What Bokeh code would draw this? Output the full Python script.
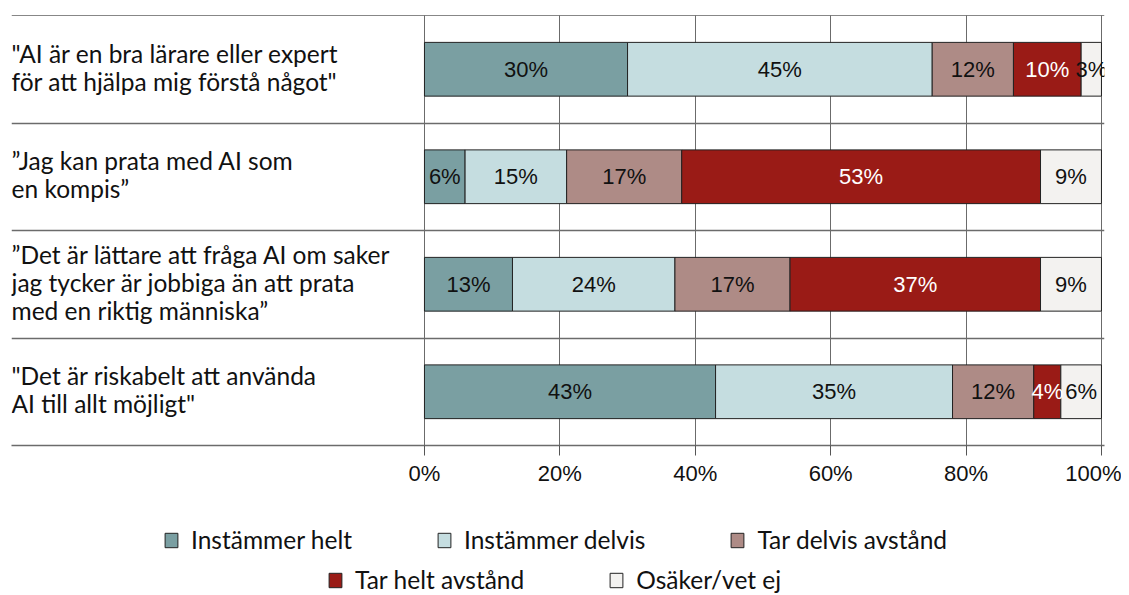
from bokeh.plotting import figure
from bokeh.layouts import column
from bokeh.models import (ColumnDataSource, Range1d, FixedTicker, Legend, LegendItem,
                          Span, PrintfTickFormatter)
from bokeh.core.properties import value
from bokeh.embed import file_html
from bokeh.resources import INLINE

# ---------------- data ----------------
categories = [
    '"AI är en bra lärare eller expert\nför att hjälpa mig förstå något"',
    '”Jag kan prata med AI som\nen kompis”',
    '”Det är lättare att fråga AI om saker\njag tycker är jobbiga än att prata\nmed en riktig människa”',
    '"Det är riskabelt att använda\nAI till allt möjligt"',
]
series_names = ["Instämmer helt", "Instämmer delvis", "Tar delvis avstånd",
                "Tar helt avstånd", "Osäker/vet ej"]
instammer_helt = [30, 6, 13, 43]
instammer_delvis = [45, 15, 24, 35]
tar_delvis_avstand = [12, 17, 17, 12]
tar_helt_avstand = [10, 53, 37, 4]
osaker = [3, 9, 9, 6]
tick_values = [0, 20, 40, 60, 80, 100]

series_values = [instammer_helt, instammer_delvis, tar_delvis_avstand,
                 tar_helt_avstand, osaker]
colors = ["#7a9fa2", "#c5dde0", "#ae8b86", "#9a1b16", "#f3f2f0"]
label_colors = ["#111111", "#111111", "#111111", "#ffffff", "#111111"]

CAT_FONT = "Lato"
CAT_SIZE = "24.5px"
NUM_FONT = "Liberation Sans"
NUM_SIZE = "22px"

n = len(categories)
ypos = [n - i - 0.5 for i in range(n)]
keys = ["s%d" % j for j in range(len(series_names))]

data = {"y": ypos}
for k, vals in zip(keys, series_values):
    data[k] = vals
source = ColumnDataSource(data)

x_start = -61.0
p = figure(frame_width=1093, frame_height=430, output_backend="svg", toolbar_location=None,
           x_range=Range1d(x_start, 100.45), y_range=Range1d(0, n),
           y_axis_location=None, min_border_left=11, min_border_right=17,
           min_border_top=15, min_border_bottom=48, outline_line_color=None)
p.background_fill_color = "white"

renderers = p.hbar_stack(keys, y="y", height=0.5, fill_color=colors,
                         line_color="#222222", line_width=1, source=source)

# segment labels
lx, ly, lt, lc = [], [], [], []
for i in range(n):
    left = 0
    for j, vals in enumerate(series_values):
        v = vals[i]
        lx.append(left + v / 2)
        ly.append(ypos[i])
        lt.append("%d%%" % v)
        lc.append(label_colors[j])
        left += v
lsrc = ColumnDataSource(dict(x=lx, y=ly, text=lt, color=lc))
p.text(x="x", y="y", text="text", text_color="color", source=lsrc,
       text_align="center", text_baseline="middle",
       text_font=value(NUM_FONT), text_font_size=value(NUM_SIZE))

# category labels
p.text(x=[x_start] * n, y=ypos, text=categories, text_align="left",
       text_baseline="middle", text_font=value(CAT_FONT), y_offset=-2,
       text_font_size=value(CAT_SIZE), text_line_height=0.96, text_color="#111111")

# grids
p.xgrid.ticker = FixedTicker(ticks=tick_values)
p.xgrid.grid_line_color = "#6b6b6b"
p.xgrid.grid_line_width = 1
p.ygrid.ticker = FixedTicker(ticks=[1, 2, 3])
p.ygrid.grid_line_color = "#6b6b6b"
p.ygrid.grid_line_width = 1.5

p.add_layout(Span(location=n, dimension="width", line_color="#111111", line_width=1))

# x axis
ax = p.xaxis[0]
ax.ticker = FixedTicker(ticks=tick_values)
ax.formatter = PrintfTickFormatter(format="%d%%")
ax.axis_line_color = "#6b6b6b"
ax.axis_line_width = 1.5
ax.major_tick_line_color = "#555555"
ax.major_tick_out = 10
ax.major_tick_in = 0
ax.minor_tick_line_color = None
ax.major_label_text_font = NUM_FONT
ax.major_label_text_font_size = NUM_SIZE
ax.major_label_text_color = "#111111"
ax.major_label_standoff = 5

# ---------------- legend strip ----------------
# same stacked series, kept outside this strip's visible ranges, used only as legend keys
lg_fig = figure(frame_width=1093, frame_height=102, output_backend="svg", toolbar_location=None,
                x_range=Range1d(500, 600), y_range=Range1d(500, 510),
                x_axis_location=None, y_axis_location=None,
                min_border_left=11, min_border_right=17, min_border_top=0,
                min_border_bottom=0, outline_line_color=None)
lg_fig.xgrid.visible = False
lg_fig.ygrid.visible = False
legend_renderers = lg_fig.hbar_stack(keys, y="y", height=0.5, fill_color=colors,
                                     line_color="#222222", line_width=1, source=source)

def make_legend(idx, loc):
    return Legend(items=[LegendItem(label=series_names[j], renderers=[legend_renderers[j]])
                         for j in idx],
                  orientation="horizontal", location=loc,
                  border_line_color=None, background_fill_alpha=0,
                  label_text_font=CAT_FONT, label_text_font_size=CAT_SIZE,
                  label_text_color="#111111", label_height=29,
                  glyph_width=16, glyph_height=18, label_standoff=12, spacing=84,
                  padding=0, margin=0)

lg_fig.add_layout(make_legend([0, 1, 2], (152, 41)))
lg_fig.add_layout(make_legend([3, 4], (316, 1)))

layout = column(p, lg_fig, spacing=0)
open("out.html", "w").write(file_html(layout, INLINE))
